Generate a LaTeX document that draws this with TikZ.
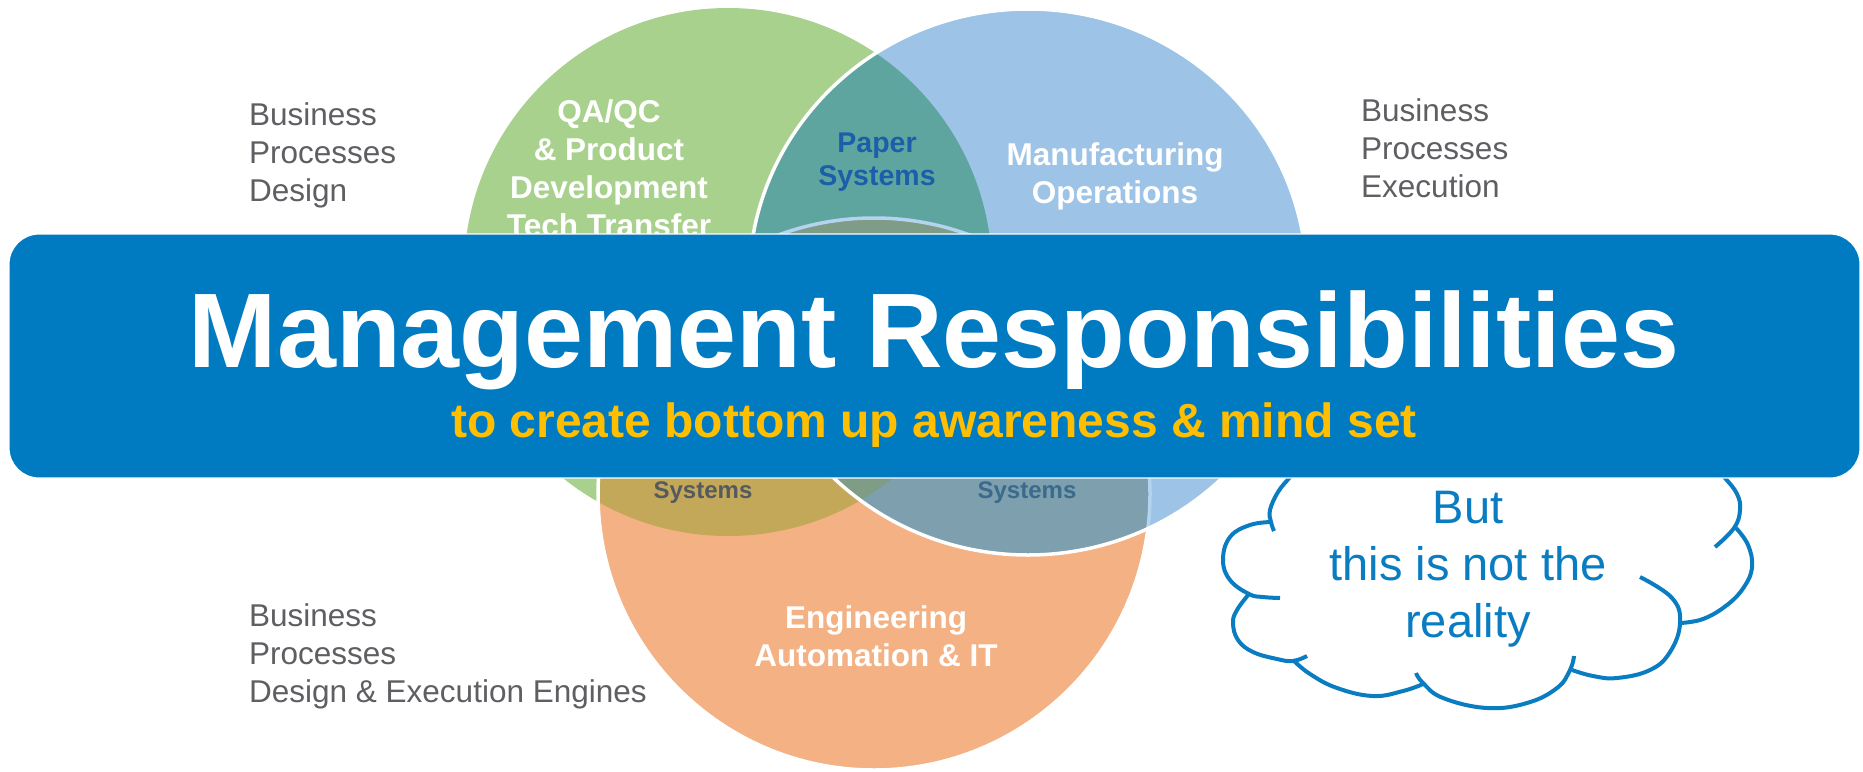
\documentclass[tikz,border=0pt]{standalone}
\usepackage{fontspec}
\setmainfont{Liberation Sans}
\definecolor{gfill}{HTML}{A9D18E}
\definecolor{bfill}{HTML}{9DC3E6}
\definecolor{ofill}{HTML}{F4B183}
\definecolor{gbfill}{HTML}{5FA59F}
\definecolor{gofill}{HTML}{C4A85A}
\definecolor{bofill}{HTML}{7D9FAE}
\definecolor{gbofill}{HTML}{7E9C86}
\definecolor{ringblue}{HTML}{B3D3EE}
\definecolor{bannerblue}{RGB}{0,122,193}
\definecolor{gold}{HTML}{FFBF00}
\definecolor{graytxt}{HTML}{5F5F63}
\definecolor{cloudblue}{HTML}{0A7CC2}
\definecolor{paperblue}{HTML}{1B5EA9}
\definecolor{sysleft}{HTML}{555A5E}
\definecolor{sysright}{HTML}{3A6A8C}
\tikzset{
  lbl/.style={font=\bfseries\fontsize{31.5}{37.7}\selectfont, text=white, align=center, anchor=base, inner sep=0pt},
  side/.style={font=\fontsize{31.5}{38}\selectfont, text=graytxt, align=left, anchor=base west, inner sep=0pt},
  ring/.style={white, line width=3.5pt},
  lobe/.style={draw=cloudblue, line width=4pt, line cap=butt},
}
\begin{document}
\begin{tikzpicture}[x=1pt,y=-1pt]
\useasboundingbox (0,0) rectangle (1863,771);
\fill[white] (0,0) rectangle (1863,771);
\coordinate (G) at (728,272);
\coordinate (O) at (874,494);
\coordinate (B) at (1028,282);
% green circle
\fill[gfill] (G) circle[radius=264];
% orange circle
\fill[ofill] (O) circle[radius=276];
\begin{scope}
  \clip (G) circle[radius=264];
  \fill[gofill] (O) circle[radius=276];
\end{scope}
\draw[ring] (O) circle[radius=276];
% blue circle
\fill[bfill] (B) ellipse[x radius=279, y radius=273];
\begin{scope}
  \clip (B) ellipse[x radius=279, y radius=273];
  \fill[gbfill] (G) circle[radius=264];
  \fill[bofill] (O) circle[radius=276];
  \begin{scope}
    \clip (G) circle[radius=264];
    \fill[gbofill] (O) circle[radius=276];
  \end{scope}
  \draw[ringblue, line width=3.5pt] (O) circle[radius=276];
\end{scope}
\draw[ring] (B) ellipse[x radius=279, y radius=273];
% circle labels (anchor base = baseline of last line)
\node[lbl] (qa) at (609,236) {QA/QC\\\& Product\\Development\\Tech Transfer};
\node[lbl, text=paperblue, font=\bfseries\fontsize{28.5}{33.5}\selectfont] (paper) at (877,185.5) {Paper\\Systems};
\node[lbl] (manu) at (1115,203) {Manufacturing\\Operations};
\node[lbl] (eng) at (876,666) {Engineering\\Automation \& IT};
\node[lbl, text=sysleft, font=\bfseries\fontsize{24}{28}\selectfont] (sysl) at (703,498) {Systems};
\node[lbl, text=sysright, font=\bfseries\fontsize{24}{28}\selectfont] (sysr) at (1027,498) {Systems};
% side texts
\node[side] (bpd) at (249,201) {Business\\Processes\\Design};
\node[side] (bpe) at (1361,197) {Business\\Processes\\Execution};
\node[side] (bpde) at (249,702) {Business\\Processes\\Design \& Execution Engines};
% cloud
\draw[lobe] plot[smooth, tension=0.7] coordinates {(1302,462) (1290,477) (1278,492) (1270,510) (1271,522) (1274,531)};
\draw[lobe] plot[smooth, tension=0.7] coordinates {(1272,522) (1250,525) (1230,537) (1223,560) (1230,580) (1249,594) (1263,597) (1280,598)};
\draw[lobe] plot[smooth, tension=0.7] coordinates {(1249,594) (1237,610) (1233,623) (1238,640) (1253,652) (1277,659) (1293,661) (1307,656)};
\draw[lobe] plot[smooth, tension=0.7] coordinates {(1293,660) (1310,674) (1337,688) (1373,696) (1403,691) (1423,684)};
\draw[lobe] plot[smooth, tension=0.7] coordinates {(1416,673) (1423,683) (1443,698) (1487,708) (1527,703) (1557,688) (1570,670) (1574,656)};
\draw[lobe] plot[smooth, tension=0.7] coordinates {(1572,670) (1593,676) (1617,678) (1650,670) (1670,652) (1680,623) (1672,598) (1640,577)};
\draw[lobe] plot[smooth, tension=0.7] coordinates {(1680,623) (1703,619) (1727,605) (1744,587) (1752,567) (1748,545) (1736,528)};
\draw[lobe] plot[smooth, tension=0.7] coordinates {(1710,462) (1725,478) (1737,494) (1740,510) (1734,528) (1715,547)};
\node[anchor=base, align=center, inner sep=0pt, font=\fontsize{47}{57}\selectfont, text=cloudblue] (cloudtxt) at (1468,637) {But\\this is not the\\reality};
% banner
\node[draw=white, line width=1.2pt, fill=bannerblue, rounded corners=30pt, minimum width=1851pt, minimum height=244pt, inner sep=0pt] (banner) at (934.5,356) {};
\node[anchor=base, inner sep=0pt, font=\bfseries\fontsize{106}{110}\selectfont, text=white] (title) at (934,367) {Management Responsibilities};
\node[anchor=base, inner sep=0pt, font=\bfseries\fontsize{48}{52}\selectfont, text=gold] (sub) at (934,437) {to create bottom up awareness \& mind set};
\end{tikzpicture}
\end{document}
